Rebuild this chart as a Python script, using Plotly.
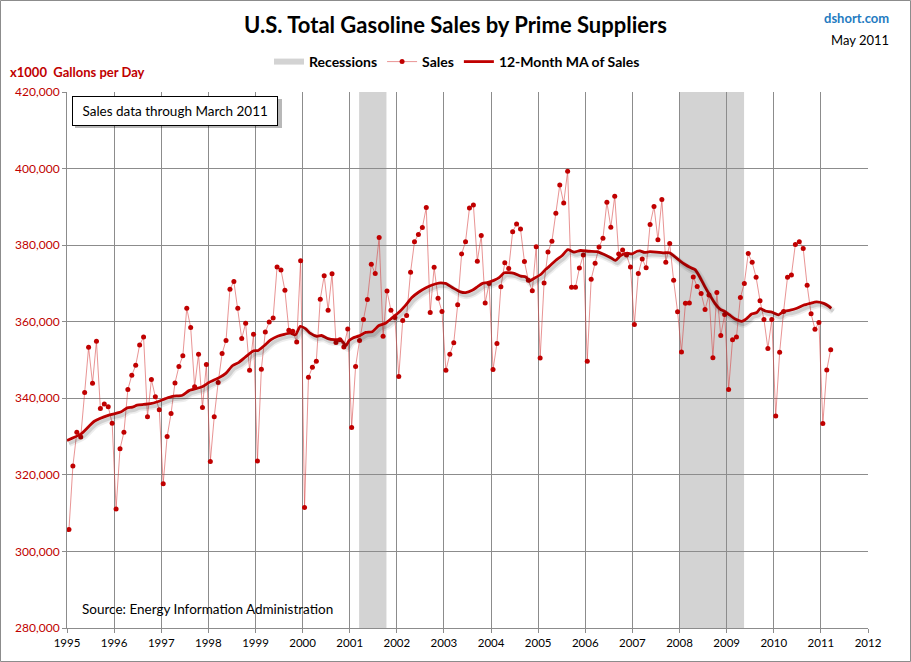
import plotly.graph_objects as go

# ---------------- data (x1000 gallons per day) ----------------
start_year = 1995
sales = [
    # 1995
    305.7, 322.3, 331.1, 329.9, 341.5, 353.3, 343.9, 354.9, 337.3, 338.5, 337.8, 333.5,
    # 1996
    311.1, 326.8, 331.1, 342.3, 346.0, 348.6, 353.9, 356.0, 335.2, 344.9, 340.4, 337.0,
    # 1997
    317.7, 330.0, 336.0, 344.0, 348.3, 351.1, 363.5, 358.5, 343.0, 351.5, 337.6, 348.8,
    # 1998
    323.5, 335.2, 344.1, 351.7, 355.1, 368.5, 370.5, 363.5, 355.6, 359.6, 347.3, 356.7,
    # 1999
    323.6, 347.6, 357.3, 359.9, 361.0, 374.3, 373.5, 368.2, 357.8, 357.5, 354.7, 375.9,
    # 2000
    311.5, 345.5, 348.1, 349.7, 365.9, 372.0, 363.0, 372.5, 354.6, 355.3, 353.4, 358.1,
    # 2001
    332.4, 348.3, 355.1, 360.6, 365.8, 375.0, 372.6, 382.0, 356.2, 368.0, 363.0, 361.1,
    # 2002
    345.7, 360.3, 361.6, 372.9, 380.9, 382.8, 384.6, 389.8, 362.4, 374.2, 366.1, 362.7,
    # 2003
    347.3, 351.5, 354.5, 364.4, 377.7, 380.9, 389.7, 390.5, 375.8, 382.5, 364.9, 370.0,
    # 2004
    347.5, 354.3, 369.1, 375.4, 373.9, 383.5, 385.5, 384.2, 375.7, 370.8, 368.1, 379.6,
    # 2005
    350.5, 370.1, 378.2, 381.0, 388.3, 395.7, 391.0, 399.3, 369.0, 369.0, 374.0, 377.4,
    # 2006
    349.7, 371.1, 375.3, 379.5, 381.8, 391.2, 384.7, 392.8, 377.7, 378.7, 377.4, 374.3,
    # 2007
    359.3, 372.6, 376.4, 374.1, 385.4, 390.1, 381.4, 391.9, 375.5, 380.4, 370.8, 362.6,
    # 2008
    352.1, 364.8, 364.9, 371.7, 369.2, 367.4, 363.2, 367.0, 350.6, 367.6, 356.4, 361.9,
    # 2009
    342.3, 355.3, 356.0, 366.3, 370.0, 377.8, 375.5, 371.6, 365.5, 360.6, 353.0, 360.6,
    # 2010
    335.4, 352.0, 362.7, 371.6, 372.2, 380.2, 380.9, 379.1, 369.5, 362.1, 358.0, 359.8,
    # 2011
    333.4, 347.4, 352.7,
]

# 12-month moving average (decimal year, value)
ma_years = [
    1995.00, 1995.30, 1995.58, 1995.89, 1996.14, 1996.28, 1996.39, 1996.49, 1996.63, 1996.77,
    1996.92, 1997.09, 1997.24, 1997.45, 1997.59, 1997.87, 1998.01, 1998.23, 1998.37, 1998.51,
    1998.65, 1998.79, 1998.96, 1999.06, 1999.19, 1999.33, 1999.47, 1999.61, 1999.74, 1999.85,
    1999.95, 2000.06, 2000.16, 2000.30, 2000.40, 2000.54, 2000.68, 2000.81, 2000.92, 2000.99,
    2001.06, 2001.20, 2001.34, 2001.48, 2001.62, 2001.76, 2001.90, 2002.04, 2002.18, 2002.32,
    2002.46, 2002.61, 2002.75, 2002.89, 2003.03, 2003.07, 2003.21, 2003.35, 2003.46, 2003.60,
    2003.71, 2003.82, 2003.92, 2004.06, 2004.17, 2004.28, 2004.38, 2004.49, 2004.63, 2004.74,
    2004.81, 2004.91, 2005.06, 2005.16, 2005.23, 2005.37, 2005.51, 2005.63, 2005.76, 2005.90,
    2006.08, 2006.25, 2006.39, 2006.54, 2006.64, 2006.75, 2006.89, 2006.99, 2007.10, 2007.16,
    2007.26, 2007.37, 2007.51, 2007.65, 2007.79, 2007.90, 2008.01, 2008.11, 2008.22, 2008.33,
    2008.43, 2008.54, 2008.65, 2008.75, 2008.86, 2008.96, 2009.07, 2009.18, 2009.32, 2009.43,
    2009.53, 2009.64, 2009.71, 2009.82, 2009.96, 2010.10, 2010.21, 2010.35, 2010.49, 2010.63,
    2010.77, 2010.91, 2011.06, 2011.16, 2011.22,
]
ma_values = [
    329.0, 330.7, 334.0, 335.6, 336.4, 337.5, 337.7, 338.2, 338.4, 338.6,
    339.1, 339.9, 340.5, 340.8, 342.0, 343.0, 344.1, 345.4, 346.5, 348.5,
    349.4, 350.8, 352.4, 352.5, 353.8, 355.3, 356.2, 356.7, 357.0, 356.6,
    358.8, 358.2, 357.0, 356.2, 356.4, 355.6, 355.3, 355.3, 353.8, 355.1,
    355.7, 356.3, 357.2, 357.4, 359.0, 359.6, 361.0, 362.4, 364.2, 366.3,
    367.7, 368.8, 369.6, 370.1, 370.0, 369.8, 368.7, 367.8, 367.6, 368.2,
    369.1, 370.0, 370.2, 370.8, 371.5, 372.8, 372.8, 372.6, 371.9, 371.7,
    370.6, 371.3, 372.4, 373.7, 374.4, 376.0, 377.3, 378.8, 378.2, 378.6,
    378.4, 378.3, 377.6, 376.7, 376.0, 377.3, 377.9, 377.7, 378.4, 378.5,
    378.1, 378.3, 378.2, 378.0, 378.0, 377.0, 375.9, 375.0, 374.2, 373.6,
    371.7, 369.1, 366.8, 364.8, 363.3, 362.7, 361.7, 360.7, 360.1, 360.9,
    362.0, 362.4, 363.4, 362.8, 362.5, 361.8, 362.7, 363.0, 363.5, 364.3,
    364.8, 365.2, 364.8, 364.1, 363.5,
]

recession_start = [2001.20, 2007.99]
recession_end = [2001.78, 2009.37]

year_ticks = list(range(1995, 2013))
y_ticks = [280000, 300000, 320000, 340000, 360000, 380000, 400000, 420000]

# ---------------- derived ----------------
sales_x = [start_year + (i + 0.5) / 12 for i in range(len(sales))]
sales_y = [v * 1000 for v in sales]
ma_y = [v * 1000 for v in ma_values]

FONT = "Lato"
RED = "#C00000"
GRID = "#8C8C8C"

fig = go.Figure()

# legend entry for recessions
fig.add_trace(go.Scatter(
    x=[None], y=[None], mode="none", fill="toself", fillcolor="#D3D3D3",
    name="Recessions", showlegend=True, hoverinfo="skip"))

# shadow of MA (same data on slightly offset overlay axes)
fig.add_trace(go.Scatter(
    x=ma_years, y=ma_y, mode="lines", xaxis="x2", yaxis="y2",
    line=dict(color="rgba(0,0,0,0.07)", width=7, shape="spline", smoothing=0.6),
    showlegend=False, hoverinfo="skip"))
fig.add_trace(go.Scatter(
    x=ma_years, y=ma_y, mode="lines", xaxis="x2", yaxis="y2",
    line=dict(color="rgba(0,0,0,0.12)", width=3.5, shape="spline", smoothing=0.6),
    showlegend=False, hoverinfo="skip"))

fig.add_trace(go.Scatter(
    x=sales_x, y=sales_y, mode="lines+markers", name="Sales",
    line=dict(color="rgba(214,60,60,0.55)", width=1),
    marker=dict(color=RED, size=5, line=dict(width=0))))

fig.add_trace(go.Scatter(
    x=ma_years, y=ma_y, mode="lines", name="12-Month MA of Sales",
    line=dict(color=RED, width=2.8, shape="spline", smoothing=0.6)))

shapes = []
for s, e in zip(recession_start, recession_end):
    shapes.append(dict(type="rect", xref="x", yref="paper", x0=s, x1=e, y0=0, y1=1,
                       fillcolor="#D3D3D3", line=dict(width=0), layer="below"))
# outer image border
shapes.append(dict(type="rect", xref="paper", yref="paper",
                   x0=-66.5 / 801, x1=(910.5 - 67) / 801,
                   y0=(628 - 661.5) / 536, y1=(628 - 0.5) / 536,
                   line=dict(color="#8C8C8C", width=1), fillcolor="rgba(0,0,0,0)", layer="above"))
# drop shadow of the info box
shapes.append(dict(type="rect", xref="paper", yref="paper",
                   x0=(75 - 67) / 801, x1=(282 - 67) / 801,
                   y0=(628 - 128) / 536, y1=(628 - 99) / 536,
                   line=dict(width=0), fillcolor="rgba(0,0,0,0.28)", layer="above"))

annotations = [
    dict(text="x1000  Gallons per Day", xref="paper", yref="paper",
         x=(8 - 67) / 801, y=(628 - 72) / 536, xanchor="left", yanchor="middle",
         showarrow=False, font=dict(family=FONT, size=13, color=RED, weight="bold")),
    dict(text="dshort.com", xref="paper", yref="paper",
         x=(891 - 67) / 801, y=(628 - 18) / 536, xanchor="right", yanchor="middle",
         showarrow=False, font=dict(family=FONT, size=13, color="#1F7BC1", weight="bold")),
    dict(text="May 2011", xref="paper", yref="paper",
         x=(891 - 67) / 801, y=(628 - 40) / 536, xanchor="right", yanchor="middle",
         showarrow=False, font=dict(family=FONT, size=13, color="#000000")),
    dict(text="\u00a0Sales data through March 2011\u00a0", xref="paper", yref="paper",
         x=(72 - 67) / 801, y=(628 - 96) / 536, xanchor="left", yanchor="top",
         showarrow=False, font=dict(family=FONT, size=13.5, color="#000000"),
         bgcolor="#FFFFFF", bordercolor="#000000", borderwidth=1, borderpad=6),
    dict(text="Source: Energy Information Administration", xref="paper", yref="paper",
         x=(80 - 67) / 801, y=(628 - 609) / 536, xanchor="left", yanchor="middle",
         showarrow=False, font=dict(family=FONT, size=13.5, color="#000000")),
]

px_y = 140000 / 536
px_x = 17 / 801
fig.update_layout(
    width=911, height=662,
    margin=dict(l=67, r=43, t=92, b=34),
    paper_bgcolor="#FFFFFF", plot_bgcolor="rgba(0,0,0,0)",
    title=dict(text="U.S. Total Gasoline Sales by Prime Suppliers",
               x=0.5, xanchor="center", y=1 - 25 / 662, yanchor="middle",
               font=dict(family=FONT, size=22, color="#000000", weight="bold")),
    font=dict(family=FONT, size=11, color="#000000"),
    legend=dict(orientation="h", x=(457 - 67) / 801, xanchor="center",
                y=1 + (92 - 62) / 536, yanchor="middle",
                font=dict(family=FONT, size=14, color="#000000", weight="bold"),
                bgcolor="rgba(0,0,0,0)", itemwidth=30, tracegroupgap=0),
    xaxis=dict(range=[1995, 2012], tickvals=year_ticks, ticktext=[str(y) for y in year_ticks],
               showgrid=True, gridcolor=GRID, gridwidth=1, zeroline=False,
               showline=True, linecolor=GRID, linewidth=1,
               ticks="outside", ticklen=4, tickcolor=GRID,
               tickfont=dict(family=FONT, size=11.5, color="#000000")),
    yaxis=dict(range=[280000, 420000], tickvals=y_ticks, tickformat=",",
               showgrid=True, gridcolor=GRID, gridwidth=1, zeroline=False,
               showline=True, linecolor=GRID, linewidth=1,
               ticks="outside", ticklen=4, tickcolor=GRID,
               tickfont=dict(family=FONT, size=12, color=RED)),
    xaxis2=dict(overlaying="x", range=[1995 - 2 * px_x, 2012 - 2 * px_x], visible=False),
    yaxis2=dict(overlaying="y", range=[280000 + 3 * px_y, 420000 + 3 * px_y], visible=False),
    shapes=shapes,
    annotations=annotations,
    hovermode=False,
)

fig.write_html("out.html",
               config={"displayModeBar": False},
               post_script="document.body.style.margin='0';document.body.style.padding='0';")
